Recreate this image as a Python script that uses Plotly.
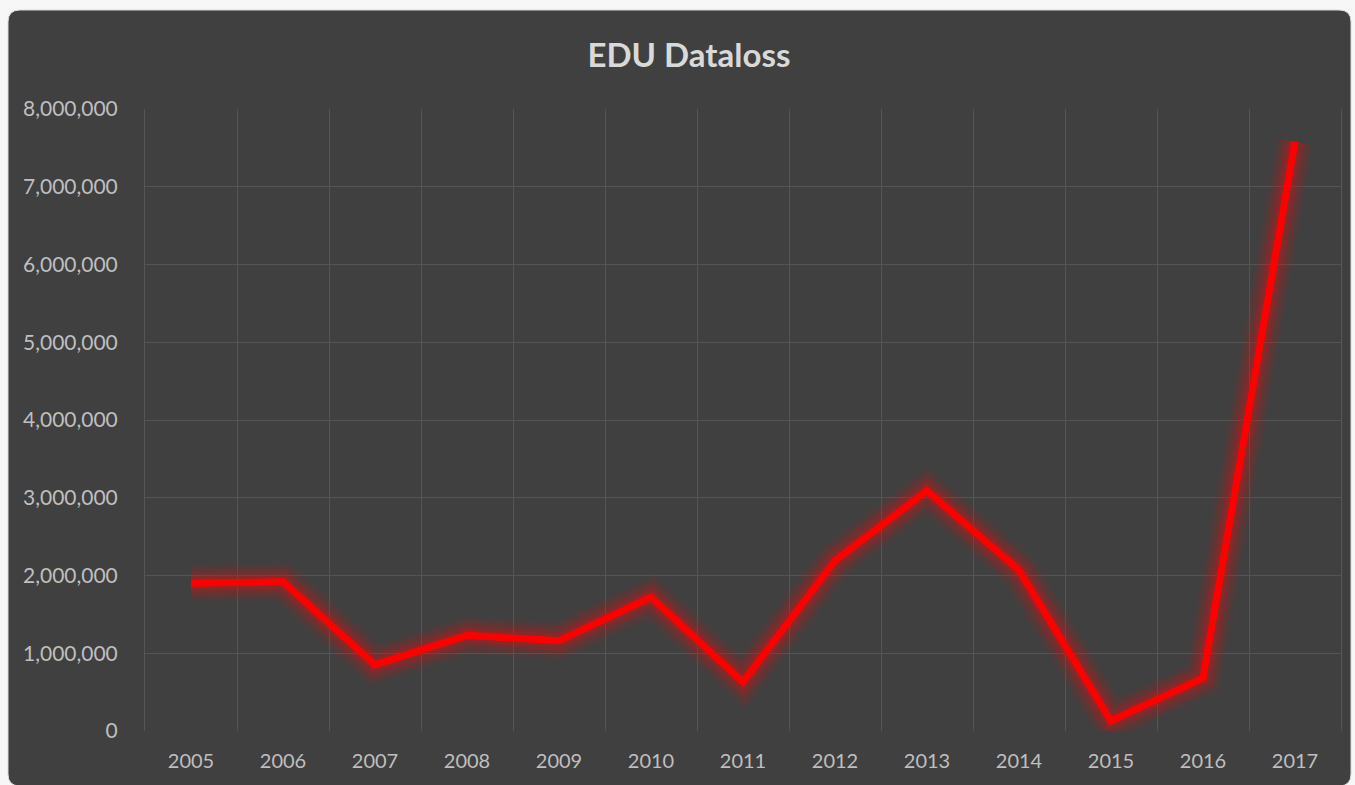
import plotly.graph_objects as go

years = ["2005", "2006", "2007", "2008", "2009", "2010", "2011",
         "2012", "2013", "2014", "2015", "2016", "2017"]
records = [1900000, 1920000, 850000, 1230000, 1160000, 1720000, 630000,
           2190000, 3090000, 2070000, 130000, 680000, 7580000]
title_text = "EDU Dataloss"

W, H = 1355, 785
L, R, T, B = 145, 14, 109, 54
pw, ph = W - L - R, H - T - B

def fx(px):
    return (px - L) / pw

def fy(py):
    return (H - B - py) / ph

fig = go.Figure()

# glow layers
for w, op in [(38, 0.06), (32, 0.08), (26, 0.11), (20, 0.15), (14, 0.22)]:
    fig.add_trace(go.Scatter(
        x=years, y=records, mode="lines",
        line=dict(color="#d01515", width=w),
        opacity=op, hoverinfo="skip", showlegend=False))

fig.add_trace(go.Scatter(
    x=years, y=records, mode="lines",
    line=dict(color="#ff0000", width=7),
    name="EDU Dataloss", showlegend=False))

# rounded card background
x0, x1 = fx(8), fx(1351)
y0, y1 = fy(10), fy(786)
rx, ry = 12 / pw, 12 / ph
path = (f"M {x0+rx},{y0} L {x1-rx},{y0} Q {x1},{y0} {x1},{y0-ry} "
        f"L {x1},{y1+ry} Q {x1},{y1} {x1-rx},{y1} "
        f"L {x0+rx},{y1} Q {x0},{y1} {x0},{y1+ry} "
        f"L {x0},{y0-ry} Q {x0},{y0} {x0+rx},{y0} Z")
fig.add_shape(type="path", path=path, xref="paper", yref="paper",
              fillcolor="#404040", line=dict(color="#d9d9d9", width=1),
              layer="below")

fig.update_layout(
    width=W, height=H,
    margin=dict(l=L, r=R, t=T, b=B, autoexpand=False),
    paper_bgcolor="#f7f7f7",
    plot_bgcolor="rgba(0,0,0,0)",
    font=dict(family="Lato, Open Sans, sans-serif", color="#bfbfbf", size=21),
    title=dict(text="<b>" + title_text + "</b>", x=689 / W, xanchor="center",
               xref="container",
               y=1 - 55 / H, yanchor="middle",
               font=dict(size=33, color="#d9d9d9")),
    xaxis=dict(type="category", tickson="boundaries", showgrid=True,
               range=[-0.5, 12.5], automargin=False,
               gridcolor="#555555", gridwidth=1, ticks="", showline=False,
               zeroline=False, tickfont=dict(size=20, color="#bfbfbf"),
               ticklabelstandoff=16),
    yaxis=dict(range=[0, 8000000], dtick=1000000, tickformat=",d",
               automargin=False,
               showgrid=True, gridcolor="#555555", gridwidth=1,
               showline=True, mirror=True, linecolor="#555555", linewidth=1,
               zeroline=False, ticks="",
               tickfont=dict(size=21, color="#bfbfbf"), ticklabelstandoff=22),
)

fig.write_html("out.html")
